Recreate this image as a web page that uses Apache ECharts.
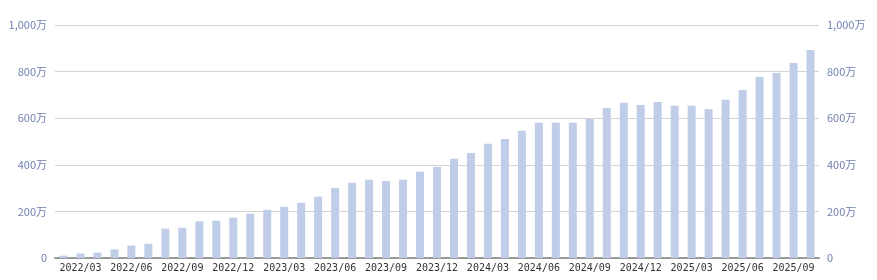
<!DOCTYPE html>
<html><head><meta charset="utf-8">
<script src="https://cdn.jsdelivr.net/npm/echarts@6/dist/echarts.min.js"></script>
<style>html,body{margin:0;padding:0;background:#fff}#c{width:877px;height:280px}</style>
</head><body><div id="c"></div>
<script>
const categories = ["2022/02","2022/03","2022/04","2022/05","2022/06","2022/07","2022/08","2022/09","2022/10","2022/11","2022/12",
"2023/01","2023/02","2023/03","2023/04","2023/05","2023/06","2023/07","2023/08","2023/09","2023/10","2023/11","2023/12",
"2024/01","2024/02","2024/03","2024/04","2024/05","2024/06","2024/07","2024/08","2024/09","2024/10","2024/11","2024/12",
"2025/01","2025/02","2025/03","2025/04","2025/05","2025/06","2025/07","2025/08","2025/09","2025/10"];
const values = [10,19,23,37,53,61,126,130,157,160,173,190,207,220,237,263,301,323,336,331,336,370,391,426,451,490,511,546,580,580,580,597,644,666,657,670,653,653,640,679,721,777,794,837,893];
const yTicks = [0,200,400,600,800,1000];

const fmt = v => v === 0 ? '0' : v.toLocaleString('en-US') + '万';
const yLabelStyle = {color:'#7080b0', fontSize:11, fontFamily:'"Noto Sans CJK JP", sans-serif', formatter: fmt};
const chart = echarts.init(document.getElementById('c'), null, {renderer:'canvas'});
chart.setOption({
  animation:false,
  grid:{left:55, right:58, top:25, bottom:22, containLabel:false},
  xAxis:{type:'category', data:categories, boundaryGap:true,
    axisLine:{lineStyle:{color:'#999', width:2}},
    axisTick:{alignWithLabel:true, length:3, lineStyle:{color:'#999'}, interval:(i)=> i%3===1},
    axisLabel:{interval:(i)=> i%3===1, color:'#333', fontSize:10, margin:5, fontFamily:'"DejaVu Sans Mono", monospace'}
  },
  yAxis:[
    {type:'value', min:0, max:1000, interval:200, position:'left',
     splitLine:{lineStyle:{color:'#d4d4d4'}}, axisLine:{show:false}, axisTick:{show:false},
     axisLabel:Object.assign({margin:8}, yLabelStyle)},
    {type:'value', min:0, max:1000, interval:200, position:'right',
     splitLine:{show:false}, axisLine:{show:false}, axisTick:{show:false},
     axisLabel:Object.assign({margin:8}, yLabelStyle)}
  ],
  series:[{type:'bar', data:values, barWidth:8, itemStyle:{color:'#bfcde8'}}]
});
</script></body></html>
